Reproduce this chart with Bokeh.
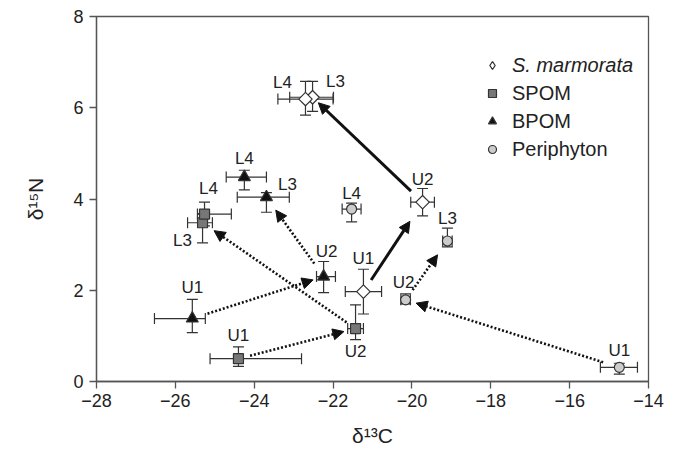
import math
from bokeh.plotting import figure
from bokeh.models import (ColumnDataSource, Whisker, TeeHead, Arrow, NormalHead,
                          Legend, LegendItem, FixedTicker)
from bokeh.embed import file_html
from bokeh.resources import INLINE
from bokeh.core.properties import value

# ---------------- data ----------------
sites = ["U1", "U2", "L3", "L4"]

sm_x = [-21.23, -19.73, -22.52, -22.70]
sm_y = [1.97, 3.93, 6.23, 6.19]
sm_xlo = [0.46, 0.30, 0.58, 0.70]
sm_xhi = [0.46, 0.30, 0.53, 0.70]
sm_ylo = [0.49, 0.30, 0.31, 0.35]
sm_yhi = [0.49, 0.30, 0.35, 0.39]

spom_x = [-24.40, -21.43, -25.31, -25.26]
spom_y = [0.50, 1.16, 3.48, 3.67]
spom_xlo = [0.72, 0.20, 0.38, 0.18]
spom_xhi = [1.60, 0.20, 0.25, 0.68]
spom_ylo = [0.17, 0.24, 0.44, 0.26]
spom_yhi = [0.26, 0.52, 0.20, 0.26]

bpom_x = [-25.57, -22.24, -23.69, -24.25]
bpom_y = [1.38, 2.30, 4.04, 4.48]
bpom_xlo = [0.96, 0.18, 0.74, 0.46]
bpom_xhi = [0.33, 0.30, 0.58, 0.56]
bpom_ylo = [0.31, 0.35, 0.33, 0.28]
bpom_yhi = [0.42, 0.33, 0.10, 0.15]

peri_x = [-14.74, -20.16, -19.10, -21.53]
peri_y = [0.31, 1.79, 3.08, 3.78]
peri_xlo = [0.48, 0.12, 0.12, 0.24]
peri_xhi = [0.46, 0.12, 0.12, 0.24]
peri_ylo = [0.15, 0.09, 0.13, 0.28]
peri_yhi = [0.09, 0.13, 0.28, 0.13]

x_ticks = [-28, -26, -24, -22, -20, -18, -16, -14]
y_ticks = [0, 2, 4, 6, 8]

# ---------------- layout / style ----------------
X0, X1, Y0, Y1 = -28, -14, 0, 8
FW, FH = 552, 366           # frame size in px
PX = FW / (X1 - X0)
PY = FH / (Y1 - Y0)
FONT = "Liberation Sans"
AX = "#555555"
TXT = "#222222"

p = figure(width=665, height=449, x_range=(X0, X1), y_range=(Y0, Y1),
           output_backend="svg", toolbar_location=None,
           min_border_left=96, min_border_right=17, min_border_top=16, min_border_bottom=67)
p.xgrid.visible = False
p.ygrid.visible = False
p.outline_line_color = AX
p.outline_line_width = 1.3
p.background_fill_color = "white"

for ax, ticks in ((p.xaxis[0], x_ticks), (p.yaxis[0], y_ticks)):
    ax.ticker = FixedTicker(ticks=ticks)
    ax.major_label_overrides = {t: (str(t).replace("-", "\u2212")) for t in ticks}
    ax.minor_tick_line_color = None
    ax.major_tick_in = 0
    ax.major_tick_out = 7
    ax.axis_line_color = AX
    ax.axis_line_width = 1.3
    ax.major_tick_line_color = AX
    ax.major_tick_line_width = 1.3
    ax.major_label_text_font = FONT
    ax.major_label_text_font_size = "18px"
    ax.major_label_text_color = TXT
    ax.axis_label_text_font = FONT
    ax.axis_label_text_font_size = "21px"
    ax.axis_label_text_font_style = "normal"
    ax.axis_label_text_color = TXT

p.xaxis[0].axis_label = "\u03b4\u00b9\u00b3C"
p.yaxis[0].axis_label = "\u03b4\u00b9\u2075N"
p.xaxis[0].major_label_standoff = 5
p.xaxis[0].axis_label_standoff = 14
p.yaxis[0].major_label_standoff = 6
p.yaxis[0].axis_label_standoff = 23

groups = [
    dict(name="S. marmorata", x=sm_x, y=sm_y, xlo=sm_xlo, xhi=sm_xhi, ylo=sm_ylo, yhi=sm_yhi,
         marker="square", angle=math.pi / 4, size=9.5, fill="white"),
    dict(name="SPOM", x=spom_x, y=spom_y, xlo=spom_xlo, xhi=spom_xhi, ylo=spom_ylo, yhi=spom_yhi,
         marker="square", angle=0, size=10, fill="#777777"),
    dict(name="BPOM", x=bpom_x, y=bpom_y, xlo=bpom_xlo, xhi=bpom_xhi, ylo=bpom_ylo, yhi=bpom_yhi,
         marker="triangle", angle=0, size=12, fill="#111111"),
    dict(name="Periphyton", x=peri_x, y=peri_y, xlo=peri_xlo, xhi=peri_xhi, ylo=peri_ylo, yhi=peri_yhi,
         marker="circle", angle=0, size=10, fill="#cccccc"),
]

# label offsets (px, screen: +dy is down) per site U1, U2, L3, L4
label_offsets = [
    [(0, -33), (0, -23), (23, -16), (-23, -17)],
    [(0, -23), (0, 23), (-20, 18), (4, -26)],
    [(0, -31), (3, -25), (21, -13), (0, -19)],
    [(0, -17), (-2, -17), (0, -22), (0, -16)],
]

# arrows: (group index, from site, to site, start shrink px, end shrink px, solid?)
arrows = [
    (0, 0, 1, 14, 23, True), (0, 1, 2, 16, 8, True),
    (1, 0, 1, 12, 12, False), (1, 1, 2, 11, 14, False),
    (2, 0, 1, 16, 11, False), (2, 1, 2, 16, 16, False),
    (3, 0, 1, 17, 11, False), (3, 1, 2, 12, 17, False),
]

renderers = []
for gi, g in enumerate(groups):
    src = ColumnDataSource(dict(
        x=g["x"], y=g["y"],
        xl=[a - b for a, b in zip(g["x"], g["xlo"])],
        xu=[a + b for a, b in zip(g["x"], g["xhi"])],
        yl=[a - b for a, b in zip(g["y"], g["ylo"])],
        yu=[a + b for a, b in zip(g["y"], g["yhi"])],
        text=sites,
        dx=[o[0] for o in label_offsets[gi]],
        dy=[o[1] for o in label_offsets[gi]],
    ))
    for dim, base, lo, hi in (("height", "x", "yl", "yu"), ("width", "y", "xl", "xu")):
        w = Whisker(source=src, base=base, lower=lo, upper=hi, dimension=dim,
                    line_color="#333333", line_width=1.2,
                    lower_head=TeeHead(size=11, line_color="#333333", line_width=1.2),
                    upper_head=TeeHead(size=11, line_color="#333333", line_width=1.2))
        p.add_layout(w)
    r = p.scatter("x", "y", source=src, marker=g["marker"], size=g["size"], angle=g["angle"],
                  fill_color=g["fill"], line_color="#333333", line_width=1.2)
    renderers.append(r)
    p.text("x", "y", text="text", source=src, x_offset="dx", y_offset="dy",
           text_align="center", text_baseline="middle", text_font=value(FONT),
           text_font_size="17px", text_color=TXT)

for gi, a, b, s0, s1, solid in arrows:
    g = groups[gi]
    ax0, ay0 = (g["x"][a] - X0) * PX, (g["y"][a] - Y0) * PY
    bx0, by0 = (g["x"][b] - X0) * PX, (g["y"][b] - Y0) * PY
    L = math.hypot(bx0 - ax0, by0 - ay0)
    ux, uy = (bx0 - ax0) / L, (by0 - ay0) / L
    xs = (ax0 + ux * s0) / PX + X0
    ys = (ay0 + uy * s0) / PY + Y0
    xe = (bx0 - ux * s1) / PX + X0
    ye = (by0 - uy * s1) / PY + Y0
    head = NormalHead(size=11, fill_color="#111111", line_color="#111111", line_width=1)
    p.add_layout(Arrow(end=head, x_start=xs, y_start=ys, x_end=xe, y_end=ye,
                       line_color="#111111", line_width=3 if solid else 2.6,
                       line_dash="solid" if solid else "2 2"))

# legend-only renderer (NaN point, not drawn): an upright diamond symbol for S. marmorata
sm_legend = p.scatter(x=[float("nan")], y=[float("nan")], marker="diamond", size=17,
                      fill_color="white", line_color="#333333", line_width=1.3)

common = dict(background_fill_alpha=0, border_line_alpha=0, padding=0, margin=0, spacing=0,
              glyph_width=20, glyph_height=28, label_height=28, label_standoff=10,
              label_text_font=FONT, label_text_font_size="20px", label_text_color=TXT)
leg1 = Legend(items=[LegendItem(label=groups[0]["name"], renderers=[sm_legend])],
              location=(386, 302), label_text_font_style="italic", **common)
leg2 = Legend(items=[LegendItem(label=groups[i]["name"], renderers=[renderers[i]]) for i in (1, 2, 3)],
              location=(386, 218), **common)
p.add_layout(leg1)
p.add_layout(leg2)

open("out.html", "w").write(file_html(p, INLINE))
